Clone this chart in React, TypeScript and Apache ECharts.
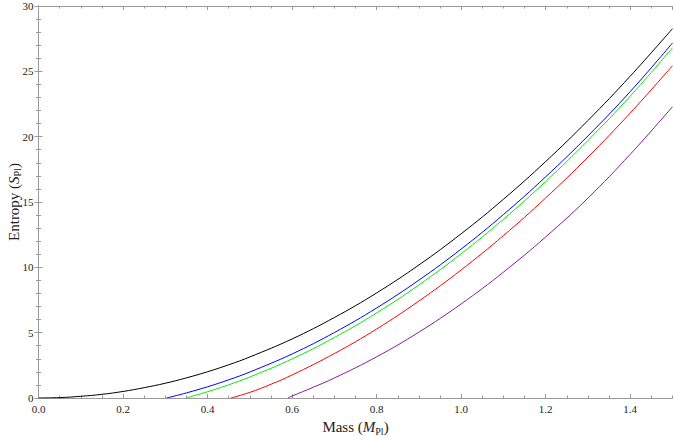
import React, { useEffect, useRef } from "react";
import * as echarts from "echarts";

// Mass (M_Pl) and entropy (S_Pl) readings for each curve
const blackM = [0, 0.05, 0.1, 0.15, 0.2, 0.25, 0.3, 0.35, 0.4, 0.45, 0.5, 0.6, 0.7, 0.8, 0.9, 1.0, 1.1, 1.2, 1.3, 1.4, 1.5];
const blackS = [0, 0.03, 0.13, 0.28, 0.5, 0.79, 1.13, 1.54, 2.01, 2.54, 3.14, 4.52, 6.16, 8.04, 10.18, 12.57, 15.21, 18.1, 21.24, 24.63, 28.27];

const blueM = [0.303, 0.35, 0.4, 0.45, 0.5, 0.6, 0.7, 0.8, 0.9, 1.0, 1.1, 1.2, 1.3, 1.4, 1.5];
const blueS = [0, 0.39, 0.86, 1.39, 1.99, 3.37, 5.01, 6.89, 9.02, 11.4, 14.04, 16.93, 20.06, 23.45, 27.17];

const greenM = [0.349, 0.4, 0.45, 0.5, 0.6, 0.7, 0.8, 0.9, 1.0, 1.1, 1.2, 1.3, 1.4, 1.5];
const greenS = [0, 0.48, 1.01, 1.61, 2.99, 4.63, 6.51, 8.65, 11.04, 13.68, 16.57, 19.71, 23.1, 26.8];

const redM = [0.455, 0.5, 0.55, 0.6, 0.7, 0.8, 0.9, 1.0, 1.1, 1.2, 1.3, 1.4, 1.5];
const redS = [0, 0.43, 1.05, 1.76, 3.4, 5.28, 7.42, 9.8, 12.43, 15.31, 18.44, 21.81, 25.43];

const purpleM = [0.59, 0.6, 0.65, 0.7, 0.8, 0.9, 1.0, 1.1, 1.2, 1.3, 1.4, 1.5];
const purpleS = [0, 0.15, 0.82, 1.53, 3.15, 5.04, 7.2, 9.63, 12.33, 15.3, 18.65, 22.29];

const xTickLabels = ["0.0", "0.2", "0.4", "0.6", "0.8", "1.0", "1.2", "1.4"];

const pairs = (xs: number[], ys: number[]) => xs.map((x, i) => [x, ys[i]]);

const FONT = "'Liberation Serif', 'Times New Roman', serif";
const AXIS_COLOR = "#9a9a9a";

export default function App() {
  const ref = useRef<HTMLDivElement>(null);
  useEffect(() => {
    document.body.style.margin = "0";
    if (!ref.current) return;
    const chart = echarts.init(ref.current, undefined, { renderer: "svg" });
    const lineSeries = (name: string, xs: number[], ys: number[], color: string) => ({
      name,
      type: "line",
      data: pairs(xs, ys),
      smooth: 0.4,
      showSymbol: false,
      symbol: "none",
      lineStyle: { color, width: 1 },
      xAxisIndex: 0,
      yAxisIndex: 0,
      clip: true,
    });
    const baseX = {
      type: "value",
      min: 0,
      max: 1.5,
      splitLine: { show: false },
      axisLine: { show: true, lineStyle: { color: AXIS_COLOR, width: 1 } },
    };
    const richName = {
      n: { fontFamily: FONT, fontSize: 15, color: "#222", lineHeight: 18 },
      i: { fontFamily: FONT, fontSize: 15, fontStyle: "italic", color: "#222", lineHeight: 18 },
      s: { fontFamily: FONT, fontSize: 10, color: "#222", lineHeight: 18, verticalAlign: "bottom", padding: [6, 0, 0, 0] },
    };
    const labelStyle = { fontFamily: FONT, fontSize: 11, color: "#222" };
    chart.setOption({
      animation: false,
      textStyle: { fontFamily: FONT },
      grid: { left: 38.5, right: 1.5, top: 6, bottom: 38, containLabel: false, outerBoundsMode: "none" },
      xAxis: [
        {
          ...baseX,
          position: "bottom",
          interval: 0.2,
          axisTick: { show: true, inside: true, length: 4, lineStyle: { color: AXIS_COLOR } },
          axisLabel: {
            show: true,
            showMaxLabel: false,
            margin: 5,
            ...labelStyle,
            formatter: (v: number) => xTickLabels[Math.round(v / 0.2)] ?? "",
          },
          name: "{n|Mass (}{i|M}{s|Pl}{n|)}",
          nameLocation: "middle",
          nameGap: 20,
          nameMoveOverlap: false,
          nameTextStyle: { fontFamily: FONT, rich: richName },
        },
        {
          ...baseX,
          position: "bottom",
          interval: 0.05,
          axisLine: { show: false },
          axisTick: { show: true, inside: true, length: 2.5, lineStyle: { color: AXIS_COLOR } },
          axisLabel: { show: false },
        },
        {
          ...baseX,
          position: "top",
          interval: 0.2,
          axisTick: { show: true, inside: true, length: 4, lineStyle: { color: AXIS_COLOR } },
          axisLabel: { show: false },
        },
        {
          ...baseX,
          position: "top",
          interval: 0.05,
          axisLine: { show: false },
          axisTick: { show: true, inside: true, length: 2.5, lineStyle: { color: AXIS_COLOR } },
          axisLabel: { show: false },
        },
      ],
      yAxis: [
        {
          type: "value",
          min: 0,
          max: 30,
          interval: 5,
          position: "left",
          splitLine: { show: false },
          axisLine: { show: true, lineStyle: { color: AXIS_COLOR } },
          axisTick: { show: true, inside: true, length: 4, lineStyle: { color: AXIS_COLOR } },
          minorTick: { show: true, splitNumber: 5, length: 2.5, lineStyle: { color: AXIS_COLOR } },
          axisLabel: { margin: 5, ...labelStyle },
          name: "{n|Entropy (}{i|S}{s|Pl}{n|)}",
          nameLocation: "middle",
          nameGap: 16,
          nameMoveOverlap: false,
          nameTextStyle: { fontFamily: FONT, rich: richName },
        },
        {
          type: "value",
          min: 0,
          max: 30,
          interval: 5,
          position: "right",
          splitLine: { show: false },
          axisLine: { show: true, lineStyle: { color: AXIS_COLOR } },
          axisTick: { show: true, inside: true, length: 4, lineStyle: { color: AXIS_COLOR } },
          minorTick: { show: true, splitNumber: 5, length: 2.5, lineStyle: { color: AXIS_COLOR } },
          axisLabel: { show: false },
        },
      ],
      series: [
        lineSeries("purple", purpleM, purpleS, "#8a1a9a"),
        lineSeries("red", redM, redS, "#ff0000"),
        lineSeries("green", greenM, greenS, "#00ee00"),
        lineSeries("blue", blueM, blueS, "#0000ff"),
        lineSeries("black", blackM, blackS, "#000000"),
      ],
    });
    return () => chart.dispose();
  }, []);
  return <div ref={ref} style={{ width: 674, height: 436 }} />;
}
